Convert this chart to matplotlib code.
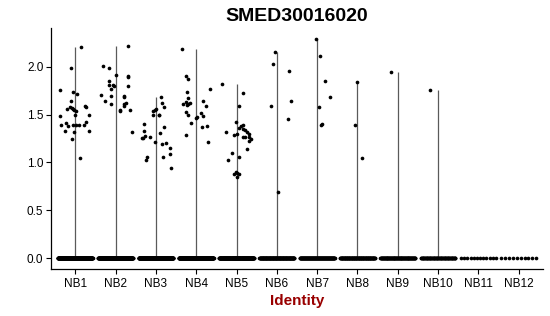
import numpy as np
import matplotlib.pyplot as plt

plt.rcParams['font.family'] = ['Liberation Sans', 'DejaVu Sans']

idents = ["NB1", "NB2", "NB3", "NB4", "NB5", "NB6", "NB7", "NB8", "NB9", "NB10", "NB11", "NB12"]

# non-zero expression values per identity
nb1 = [2.21, 1.99, 1.76, 1.74, 1.71, 1.64, 1.59, 1.58, 1.56, 1.58, 1.57, 1.55, 1.54, 1.56, 1.50,
       1.50, 1.48, 1.41, 1.42, 1.39, 1.38, 1.39, 1.39, 1.39, 1.39, 1.33, 1.32, 1.33, 1.24, 1.05]
nb2 = [2.22, 2.01, 1.99, 1.91, 1.90, 1.89, 1.85, 1.81, 1.81, 1.80, 1.80, 1.77, 1.70, 1.69, 1.69,
       1.68, 1.64, 1.61, 1.61, 1.62, 1.59, 1.55, 1.54, 1.55, 1.32]
nb3 = [1.68, 1.62, 1.58, 1.56, 1.55, 1.54, 1.49, 1.50, 1.49, 1.40, 1.37, 1.33, 1.31, 1.28, 1.25,
       1.25, 1.27, 1.21, 1.19, 1.20, 1.15, 1.09, 1.06, 1.06, 1.02, 0.94]
nb4 = [2.18, 1.90, 1.87, 1.77, 1.74, 1.67, 1.64, 1.61, 1.63, 1.61, 1.62, 1.60, 1.59, 1.53, 1.49,
       1.52, 1.48, 1.47, 1.46, 1.41, 1.38, 1.37, 1.29, 1.21]
nb5 = [1.82, 1.73, 1.59, 1.42, 1.39, 1.38, 1.36, 1.35, 1.34, 1.32, 1.30, 1.27, 1.24, 1.22, 1.32,
       1.30, 1.29, 1.27, 1.26, 1.14, 1.10, 1.06, 1.02, 0.90, 0.89, 0.88, 0.88, 0.85]
nb6 = [2.15, 2.03, 1.95, 1.64, 1.59, 1.45, 0.69]
nb7 = [2.29, 2.11, 1.85, 1.68, 1.58, 1.40, 1.39]
nb8 = [1.84, 1.39, 1.05]
nb9 = [1.94]
nb10 = [1.76]
nb11 = []
nb12 = []
values = [nb1, nb2, nb3, nb4, nb5, nb6, nb7, nb8, nb9, nb10, nb11, nb12]

# horizontal jitter of those points, as seen in the picture (category units)
jit = [
    [0.15, -0.10, -0.37, -0.05, 0.05, -0.10, 0.25, 0.27, -0.20, -0.12, -0.07, -0.02, 0.02, -0.05, 0.35,
     0.0, -0.37, -0.22, 0.27, -0.35, -0.17, -0.05, 0.02, 0.10, 0.22, -0.25, -0.02, 0.35, -0.07, 0.12],
    [0.32, -0.32, -0.17, 0.0, 0.32, 0.30, -0.17, -0.15, -0.07, -0.05, 0.30, -0.10, -0.37, -0.12, 0.20,
     0.22, -0.27, -0.12, 0.22, 0.25, 0.20, 0.10, 0.10, 0.37, 0.40],
    [0.12, 0.15, 0.20, 0.0, -0.02, -0.07, -0.07, 0.07, 0.07, -0.30, 0.20, -0.30, 0.10, -0.27, -0.32,
     -0.35, -0.15, -0.02, 0.15, 0.25, 0.35, 0.35, 0.17, -0.22, -0.25, 0.37],
    [-0.35, -0.25, -0.20, 0.35, -0.22, -0.20, 0.17, -0.32, -0.25, -0.20, -0.15, -0.22, 0.25, -0.25, -0.20,
     0.12, 0.17, 0.02, 0.0, -0.12, 0.27, 0.15, -0.25, 0.30],
    [-0.35, 0.15, 0.07, -0.02, 0.17, 0.12, 0.07, 0.15, 0.20, 0.25, 0.30, 0.32, 0.35, 0.32, -0.25,
     0.0, -0.05, 0.17, 0.22, 0.27, -0.12, 0.07, -0.20, -0.02, 0.0, 0.05, -0.05, 0.0],
    [-0.05, -0.10, 0.30, 0.35, -0.15, 0.27, 0.02],
    [-0.02, 0.07, 0.20, 0.32, 0.05, 0.12, 0.10],
    [0.0, -0.07, 0.10],
    [-0.17],
    [-0.20],
    [],
    [],
]

# number of cells with zero expression per identity (estimated)
zeros = [300, 280, 260, 300, 240, 150, 140, 120, 110, 80, 12, 10]

fig = plt.figure(figsize=(5.5, 3.16), dpi=100)
ax = fig.add_axes([51 / 550, 47 / 316, 492 / 550, 241 / 316])

for i in range(len(idents)):
    x = i + 1
    v = np.array(values[i])
    if len(v):
        ax.vlines(x, 0, v.max(), color='#5a5a5a', lw=0.9, zorder=1)
    zx = x + np.linspace(-0.43, 0.43, zeros[i])
    ax.scatter(zx, np.zeros(zeros[i]), s=7, c='black', lw=0, zorder=2)
    if len(v):
        ax.scatter(x + np.array(jit[i]), v, s=7, c='black', lw=0, zorder=2)

ymax = max(max(v) for v in values if v)
pad = 0.05 * ymax
ax.set_ylim(-pad, ymax + pad)
ax.set_xlim(0.4, len(idents) + 0.6)
ax.set_xticks(range(1, len(idents) + 1))
ax.set_xticklabels(idents)
ax.set_yticks([0, 0.5, 1.0, 1.5, 2.0])
ax.set_yticklabels(["0.0", "0.5", "1.0", "1.5", "2.0"])

for s in ['top', 'right']:
    ax.spines[s].set_visible(False)
for s in ['left', 'bottom']:
    ax.spines[s].set_linewidth(0.9)
ax.tick_params(axis='both', length=3.5, width=0.8, labelsize=8.5, colors='black')
ax.tick_params(axis='y', pad=2)
ax.tick_params(axis='x', pad=3)

ax.set_title("SMED30016020", fontsize=14, fontweight='bold', pad=5)
ax.set_xlabel("Identity", fontsize=11, fontweight='bold', color='#990000', labelpad=3)

fig.savefig("out.png", dpi=100)
